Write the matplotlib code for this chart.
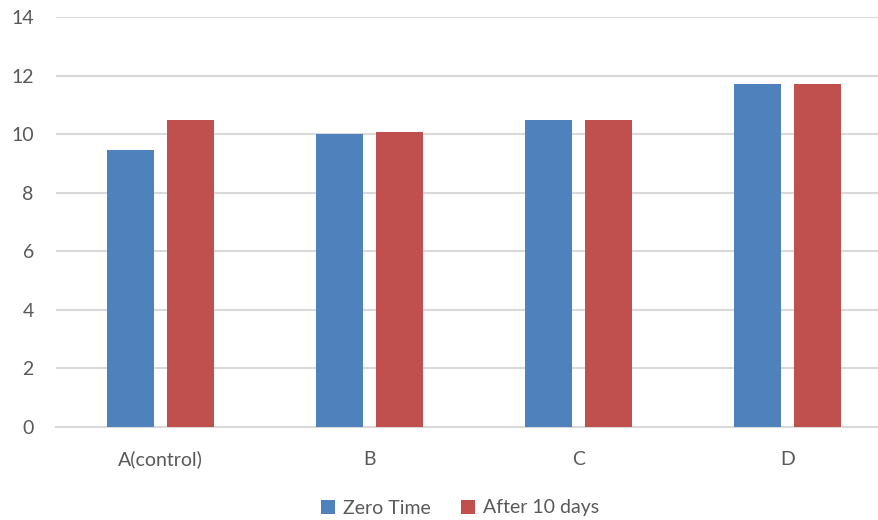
import numpy as np
import matplotlib.pyplot as plt

plt.rcParams['font.family'] = ['Lato', 'DejaVu Sans']

categories = ['A(control)', 'B', 'C', 'D']
zero_time = [9.45, 10.02, 10.5, 11.72]
after_10_days = [10.5, 10.07, 10.5, 11.72]
series_names = ['Zero Time', 'After 10 days']

blue = '#4f81bd'
red = '#c0504d'
grey_txt = '#595959'
grid_c = '#d9d9d9'

fig = plt.figure(figsize=(8.79, 5.2), dpi=100)
ax = fig.add_axes([56 / 879, 1 - 427 / 520, 836 / 879, 410 / 520])

x = np.arange(len(categories))
w = 0.225
off = (w + 0.062) / 2
ax.bar(x - off, zero_time, w, color=blue, label=series_names[0], zorder=3)
ax.bar(x + off, after_10_days, w, color=red, label=series_names[1], zorder=3)

ax.set_xlim(-0.5, len(categories) - 0.5)
ax.set_ylim(0, 14)
ax.set_yticks(np.arange(0, 15, 2))
ax.set_xticks(x)
ax.set_xticklabels(categories)
ax.yaxis.grid(True, color=grid_c, linewidth=1.5, zorder=0)
ax.set_axisbelow(True)
for s in ['top', 'right', 'left']:
    ax.spines[s].set_visible(False)
ax.spines['bottom'].set_color(grid_c)
ax.spines['bottom'].set_linewidth(1.5)
ax.tick_params(axis='both', length=0, labelsize=14, colors=grey_txt)
ax.tick_params(axis='y', pad=16)
ax.tick_params(axis='x', pad=17)

fig.legend(loc='center', bbox_to_anchor=(460 / 879, 1 - 508 / 520), ncol=2,
           frameon=False, fontsize=14, labelcolor=grey_txt, handlelength=0.7,
           handleheight=0.7, handletextpad=0.4, columnspacing=1.6)

fig.savefig('out.png', dpi=100)
